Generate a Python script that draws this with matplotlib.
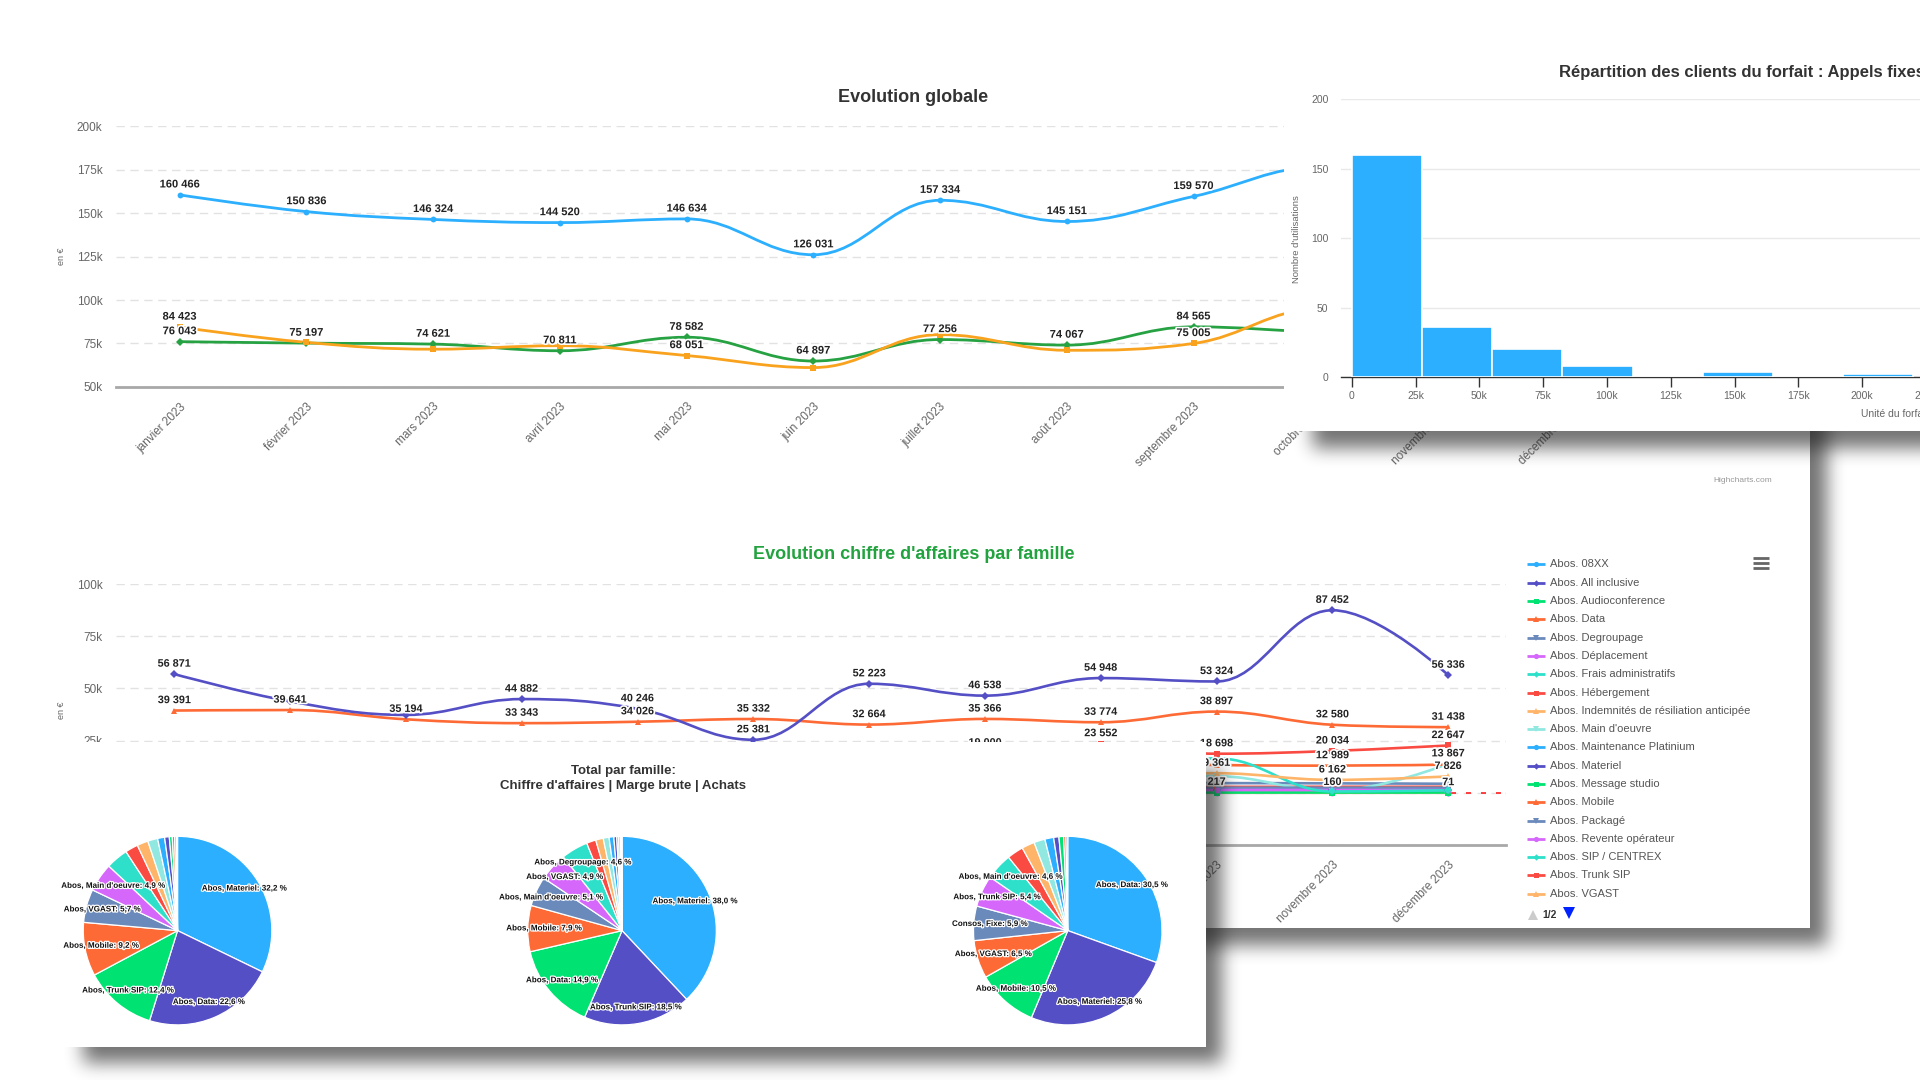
import numpy as np
import matplotlib
matplotlib.use("Agg")
import matplotlib.pyplot as plt
from matplotlib.path import Path
from matplotlib.patches import PathPatch, Rectangle
from matplotlib.ticker import FuncFormatter
import matplotlib.patheffects as pe

plt.rcParams["font.family"] = ["Liberation Sans", "DejaVu Sans"]

# ------------------------------------------------------------------ data
months = ["janvier 2023", "février 2023", "mars 2023", "avril 2023", "mai 2023", "juin 2023",
          "juillet 2023", "août 2023", "septembre 2023", "octobre 2023", "novembre 2023",
          "décembre 2023"]

# Evolution globale
chiffre_affaires = [160466, 150836, 146324, 144520, 146634, 126031, 157334, 145151, 159570,
                    176500, 168000, 170000]
marge_brute = [76043, 75197, 74621, 70811, 78582, 64897, 77256, 74067, 84565, 81500, 80000, 84000]
achats = [84423, 75639, 71703, 73709, 68051, 61134, 80078, 71084, 75005, 95000, 88000, 86000]

# Evolution chiffre d'affaires par famille
abos_08xx = [230, 230, 230, 225, 225, 225, 220, 220, 220, 217, 160, 71]
abos_all_inclusive = [1180, 1180, 1190, 1190, 1200, 1200, 1210, 1210, 1220, 1230, 1240, 1240]
abos_audioconference = [310, 290, 300, 280, 260, 270, 250, 240, 260, 250, 230, 240]
abos_data = [39391, 39641, 35194, 33343, 34026, 35332, 32664, 35366, 33774, 38897, 32580, 31438]
abos_degroupage = [4100, 4150, 4200, 4250, 4300, 4350, 4400, 4450, 4500, 4600, 4500, 4300]
abos_deplacement = [0, 350, 0, 0, 420, 0, 0, 380, 0, 0, 0, 0]
abos_frais_admin = [150, 120, 180, 140, 160, 130, 170, 150, 140, 160, 150, 140]
abos_hebergement = [2600, 2600, 2650, 2650, 2700, 2700, 2750, 2750, 2800, 2800, 2850, 2850]
abos_indemnites = [0, 0, 1800, 0, 0, 0, 2500, 0, 0, 0, 0, 0]
abos_main_oeuvre = [8200, 7900, 8600, 7400, 8100, 6900, 8800, 7600, 8300, 8000, 900, 13867]
abos_maintenance = [1900, 1900, 1920, 1920, 1940, 1940, 1950, 1950, 1960, 1960, 1970, 1970]
abos_materiel = [56871, 43800, 37300, 44882, 40246, 25381, 52223, 46538, 54948, 53324, 87452, 56336]
abos_message_studio = [90, 90, 95, 95, 100, 100, 100, 105, 105, 110, 110, 110]
abos_mobile = [14500, 14800, 15200, 14100, 14600, 13900, 15300, 14800, 15500, 13300, 12989, 13500]
abos_package = [2300, 2300, 2320, 2320, 2340, 2340, 2360, 2360, 2380, 2380, 2400, 2400]
abos_revente = [1300, 1310, 1320, 1300, 1290, 1310, 1330, 1320, 1310, 1300, 1290, 1280]
abos_sip_centrex = [5900, 6100, 6000, 6200, 6100, 6300, 6400, 6500, 6800, 16500, 600, 1200]
abos_trunk_sip = [18600, 18900, 19300, 18700, 19400, 18200, 19800, 19000, 23552, 18698, 20034, 22647]
abos_vgast = [9200, 9000, 9100, 8800, 9300, 8700, 9000, 9200, 9400, 9361, 6162, 7826]

family_names = ["Abos. 08XX", "Abos. All inclusive", "Abos. Audioconference", "Abos. Data",
                "Abos. Degroupage", "Abos. Déplacement", "Abos. Frais administratifs",
                "Abos. Hébergement", "Abos. Indemnités de résiliation anticipée",
                "Abos. Main d'oeuvre", "Abos. Maintenance Platinium", "Abos. Materiel",
                "Abos. Message studio", "Abos. Mobile", "Abos. Packagé",
                "Abos. Revente opérateur", "Abos. SIP / CENTREX", "Abos. Trunk SIP",
                "Abos. VGAST"]
family_values = [abos_08xx, abos_all_inclusive, abos_audioconference, abos_data, abos_degroupage,
                 abos_deplacement, abos_frais_admin, abos_hebergement, abos_indemnites,
                 abos_main_oeuvre, abos_maintenance, abos_materiel, abos_message_studio,
                 abos_mobile, abos_package, abos_revente, abos_sip_centrex, abos_trunk_sip,
                 abos_vgast]

# Histogram "Répartition des clients du forfait : Appels fixes"
hist_bin_edges = [0, 27500, 55000, 82500, 110000, 137500, 165000, 192500, 220000]
hist_counts = [160, 36, 20, 8, 0, 4, 0, 2]

# Pies "Total par famille"
pie_ca_names = ["Abos. Materiel", "Abos. Data", "Abos. Trunk SIP", "Abos. Mobile", "Abos. VGAST",
                "Abos. Main d'oeuvre", "Abos. SIP / CENTREX", "Consos. Fixe", "Abos. Degroupage",
                "Abos. Hébergement", "Abos. Packagé", "Abos. Revente opérateur",
                "Abos. Audioconference", "Abos. 08XX", "Abos. Frais administratifs",
                "Abos. Déplacement"]
pie_ca_values = [32.2, 22.6, 12.4, 9.2, 5.7, 4.9, 3.8, 2.2, 1.9, 1.7, 1.2, 0.8, 0.5, 0.4, 0.3, 0.2]

pie_marge_names = ["Abos. Materiel", "Abos. Trunk SIP", "Abos. Data", "Abos. Mobile",
                   "Abos. Main d'oeuvre", "Abos. VGAST", "Abos. Degroupage", "Abos. Hébergement",
                   "Abos. SIP / CENTREX", "Abos. Packagé", "Abos. Revente opérateur",
                   "Abos. Maintenance Platinium", "Abos. Audioconference", "Abos. 08XX",
                   "Abos. All inclusive", "Abos. Frais administratifs"]
pie_marge_values = [38.0, 18.5, 14.9, 7.9, 5.1, 4.9, 4.6, 1.6, 1.3, 1.0, 0.8, 0.5, 0.3, 0.3, 0.2, 0.1]

pie_achats_names = ["Abos. Data", "Abos. Materiel", "Abos. Mobile", "Abos. VGAST", "Consos. Fixe",
                    "Abos. Trunk SIP", "Abos. Main d'oeuvre", "Abos. Hébergement",
                    "Abos. Degroupage", "Abos. SIP / CENTREX", "Abos. Packagé",
                    "Abos. Maintenance Platinium", "Abos. Revente opérateur",
                    "Abos. All inclusive", "Abos. Audioconference"]
pie_achats_values = [30.5, 25.8, 10.5, 6.5, 5.9, 5.4, 4.6, 2.8, 2.2, 1.9, 1.5, 0.9, 0.8, 0.4, 0.3]

# which data labels survive Highcharts' overlap hiding
global_label_months = {"Chiffre d'affaires": list(range(12)), "Marge brute": list(range(12)),
                       "Achats": [0, 4, 8]}
family_label_months = {"Abos. Materiel": [0, 3, 4, 5, 6, 7, 8, 9, 10, 11],
                       "Abos. Data": list(range(12)), "Abos. Trunk SIP": [7, 8, 9, 10, 11],
                       "Abos. Mobile": [10], "Abos. Main d'oeuvre": [11],
                       "Abos. VGAST": [9, 10, 11], "Abos. 08XX": [9, 10, 11]}

# ------------------------------------------------------------------ styles / helpers
HC = ["#2caffe", "#544fc5", "#00e272", "#fe6a35", "#6b8abc", "#d568fb", "#2ee0ca", "#fa4b42",
      "#feb56a", "#91e8e1"]
MK = ["o", "D", "s", "^", "v"]
MS = {"o": 4.2, "D": 3.6, "s": 4.0, "^": 4.6, "v": 4.6}
W, H = 1568.0, 882.0  # layout units (reference preview pixels)


def rect(x0, y0, x1, y1):
    return [x0 / W, 1 - y1 / H, (x1 - x0) / W, (y1 - y0) / H]


def fmt_num(v):
    return f"{int(round(v)):,}".replace(",", " ")


def k_fmt(v, pos=None):
    v = int(round(v))
    return "0" if v == 0 else f"{v // 1000}k"


def spline_path(xs, ys):
    n = len(xs)
    sm = 1.5
    den = sm + 1
    lc = [None] * n
    rc = [None] * n
    for i in range(1, n - 1):
        px, py = xs[i], ys[i]
        lx, ly = xs[i - 1], ys[i - 1]
        nx, ny = xs[i + 1], ys[i + 1]
        lcx = (sm * px + lx) / den
        lcy = (sm * py + ly) / den
        rcx = (sm * px + nx) / den
        rcy = (sm * py + ny) / den
        if rcx != lcx:
            corr = ((rcy - lcy) * (rcx - px)) / (rcx - lcx) + py - rcy
            lcy += corr
            rcy += corr
        if lcy > ly and lcy > py:
            lcy = max(ly, py)
            rcy = 2 * py - lcy
        elif lcy < ly and lcy < py:
            lcy = min(ly, py)
            rcy = 2 * py - lcy
        if rcy > ny and rcy > py:
            rcy = max(ny, py)
            lcy = 2 * py - rcy
        elif rcy < ny and rcy < py:
            rcy = min(ny, py)
            lcy = 2 * py - rcy
        lc[i] = (lcx, lcy)
        rc[i] = (rcx, rcy)
    verts = [(xs[0], ys[0])]
    codes = [Path.MOVETO]
    for i in range(1, n):
        c1 = rc[i - 1] if rc[i - 1] is not None else (xs[i - 1], ys[i - 1])
        c2 = lc[i] if lc[i] is not None else (xs[i], ys[i])
        verts += [c1, c2, (xs[i], ys[i])]
        codes += [Path.CURVE4] * 3
    return Path(verts, codes)


def box_blur(a, r, axis):
    pad = [(0, 0), (0, 0)]
    pad[axis] = (r + 1, r)
    p = np.pad(a, pad, mode="edge")
    c = np.cumsum(p, axis=axis)
    if axis == 0:
        return (c[2 * r + 1:, :] - c[:-2 * r - 1, :]) / (2 * r + 1)
    return (c[:, 2 * r + 1:] - c[:, :-2 * r - 1]) / (2 * r + 1)


def overlay(z):
    ax = fig.add_axes([0, 0, 1, 1], zorder=z)
    ax.set_axis_off()
    return ax


def panel(ax, x0, y0, x1, y1, dx=13, dy=14, blur=6, alpha=0.62, inset_l=0, inset_t=0):
    s = 0.5
    w, h = int(W * s), int(H * s)
    m = np.zeros((h, w))
    X0, X1 = int(round((x0 + dx + inset_l) * s)), int(round((x1 + dx) * s))
    Y0, Y1 = int(round((y0 + dy + inset_t) * s)), int(round((y1 + dy) * s))
    m[max(Y0, 0):min(Y1, h), max(X0, 0):min(X1, w)] = 1.0
    r = max(1, int(blur * s))
    for _ in range(3):
        m = box_blur(m, r, 0)
        m = box_blur(m, r, 1)
    img = np.zeros((h, w, 4))
    img[..., :3] = 0.12
    img[..., 3] = m * alpha
    ax.imshow(img, extent=(0, W, H, 0), interpolation="bilinear", aspect="auto", zorder=0)
    ax.add_patch(Rectangle((x0, y0), x1 - x0, y1 - y0, facecolor="white", edgecolor="none",
                           zorder=1))
    ax.set_xlim(0, W)
    ax.set_ylim(H, 0)


def style_line_axes(ax, ymin, ymax, yticks):
    ax.patch.set_alpha(0)
    ax.set_xlim(-0.5, 11.5)
    ax.set_ylim(ymin, ymax)
    ax.set_yticks(yticks)
    ax.yaxis.set_major_formatter(FuncFormatter(k_fmt))
    ax.set_xticks(range(12))
    ax.set_xticklabels(months, rotation=45, ha="right", va="top", rotation_mode="anchor")
    for sp in ["top", "right", "left"]:
        ax.spines[sp].set_visible(False)
    ax.spines["bottom"].set_color("#a8a8a8")
    ax.spines["bottom"].set_linewidth(2)
    ax.tick_params(axis="y", length=0, pad=10, labelsize=8.5, labelcolor="#666666")
    ax.tick_params(axis="x", length=0, pad=10, labelsize=8.5, labelcolor="#666666")
    ax.grid(axis="y", color="#e2e2e2", linewidth=1, linestyle=(0, (6, 4)))
    ax.set_axisbelow(True)


def draw_series(ax, ys, color, marker, lw=2.0, ms=None):
    xs = list(range(len(ys)))
    ax.add_patch(PathPatch(spline_path(xs, ys), facecolor="none", edgecolor=color, lw=lw,
                           zorder=3, capstyle="round"))
    ax.plot(xs, ys, ls="none", marker=marker, ms=ms or MS[marker], color=color, zorder=4,
            markeredgewidth=0)


def draw_labels(ax, ys, idxs, size=8):
    for i in idxs:
        ax.annotate(fmt_num(ys[i]), (i, ys[i]), xytext=(0, 7.5), textcoords="offset points",
                    ha="center", va="center", fontsize=size, fontweight="bold", color="#222222",
                    path_effects=[pe.withStroke(linewidth=2.4, foreground="white")], zorder=6,
                    annotation_clip=False)


# ------------------------------------------------------------------ figure
fig = plt.figure(figsize=(19.2, 10.8), dpi=100)
fig.patch.set_facecolor("white")

# ---------- panel A (big Highcharts page) ----------
oa = overlay(0)
panel(oa, 40, 36, 1478, 758, inset_l=40, inset_t=20)
oa.text(746, 80, "Evolution globale", ha="center", va="center", fontsize=13, fontweight="bold",
        color="#333333", zorder=3)
oa.text(746, 453, "Evolution chiffre d'affaires par famille", ha="center", va="center",
        fontsize=13, fontweight="bold", color="#22a33f", zorder=3)
oa.text(50, 209, "en €", rotation=90, ha="center", va="center", fontsize=6.5, color="#666666",
        zorder=3)
oa.text(50, 580, "en €", rotation=90, ha="center", va="center", fontsize=6.5, color="#666666",
        zorder=3)
oa.text(1423, 392, "Highcharts.com", ha="center", va="center", fontsize=6, color="#999999",
        zorder=3)
# legend
leg_y0, leg_dy = 461, 14.94
for i, name in enumerate(family_names):
    y = leg_y0 + i * leg_dy
    c = HC[i % 10]
    mk = MK[i % 5]
    oa.plot([1247, 1262], [y, y], color=c, lw=2, zorder=3, solid_capstyle="butt")
    oa.plot([1254.5], [y], marker=mk, ms=MS[mk] * 0.9, color=c, zorder=4, markeredgewidth=0)
    oa.text(1266, y, name, ha="left", va="center", fontsize=8, color="#555555", zorder=3)
oa.plot([1252], [747], marker="^", ms=7, color="#cccccc", zorder=3, markeredgewidth=0)
oa.text(1260, 747, "1/2", ha="left", va="center", fontsize=7.5, fontweight="bold",
        color="#333333", zorder=3)
oa.plot([1281], [746], marker="v", ms=8, color="#0022ff", zorder=3, markeredgewidth=0)
for yy in (456, 460, 464):
    oa.plot([1432, 1445], [yy, yy], color="#666666", lw=2, zorder=3, solid_capstyle="butt")

# top chart
ax1 = fig.add_axes(rect(95, 103, 1337, 316), zorder=1)
style_line_axes(ax1, 50000, 200000, [50000, 75000, 100000, 125000, 150000, 175000, 200000])
glob = [("Chiffre d'affaires", chiffre_affaires, "#2caffe", "o"),
        ("Marge brute", marge_brute, "#27a243", "D"),
        ("Achats", achats, "#f9a21d", "s")]
for name, ys, c, mk in glob:
    draw_series(ax1, ys, c, mk)
for name, ys, c, mk in glob:
    draw_labels(ax1, ys, global_label_months[name])

# middle chart
ax2 = fig.add_axes(rect(95, 477, 1230, 690), zorder=1)
style_line_axes(ax2, -25000, 100000, [-25000, 0, 25000, 50000, 75000, 100000])
ax2.axhline(0, color="#ff2020", lw=1.2, linestyle=(0, (3, 6)), zorder=2)
for i, (name, ys) in enumerate(zip(family_names, family_values)):
    draw_series(ax2, ys, HC[i % 10], MK[i % 5], lw=1.9)
for i, (name, ys) in enumerate(zip(family_names, family_values)):
    if name in family_label_months:
        draw_labels(ax2, ys, family_label_months[name], size=7.8)

# ---------- panel B (histogram) ----------
ob = overlay(2)
panel(ob, 1049, 45, 1990, 352, inset_l=10, inset_t=20)
ob.text(1273, 59, "Répartition des clients du forfait : Appels fixes", ha="left", va="center",
        fontsize=12, fontweight="bold", color="#333333", zorder=3)
ob.text(1059, 195, "Nombre d'utilisations", rotation=90, ha="center", va="center", fontsize=6.8,
        color="#666666", zorder=3)
ob.text(1520, 338, "Unité du forfait", ha="left", va="center", fontsize=7.5, color="#666666",
        zorder=3)

ax3 = fig.add_axes(rect(1095, 81, 1640, 308), zorder=3)
ax3.patch.set_alpha(0)
widths = np.diff(hist_bin_edges)
ax3.bar(hist_bin_edges[:-1], hist_counts, width=widths, align="edge", color="#2caffe",
        edgecolor="white", linewidth=1.2, zorder=3)
ax3.set_xlim(-4300, 257200)
ax3.set_ylim(0, 200)
ax3.set_yticks([0, 50, 100, 150, 200])
ax3.set_xticks(np.arange(0, 250001, 25000))
ax3.xaxis.set_major_formatter(FuncFormatter(k_fmt))
for sp in ["top", "right", "left"]:
    ax3.spines[sp].set_visible(False)
ax3.spines["bottom"].set_color("#333333")
ax3.spines["bottom"].set_linewidth(1)
ax3.tick_params(axis="y", length=0, pad=9, labelsize=7.5, labelcolor="#666666")
ax3.tick_params(axis="x", length=7, width=1, color="#333333", pad=3, labelsize=7.5,
                labelcolor="#666666")
ax3.grid(axis="y", color="#e9e9e9", linewidth=1)
ax3.set_axisbelow(True)

# ---------- panel C (pies) ----------
oc = overlay(4)
panel(oc, 45, 606, 985, 855, inset_l=10, inset_t=10)
oc.text(509, 630, "Total par famille:", ha="center", va="center", fontsize=9.5,
        fontweight="bold", color="#333333", zorder=3)
oc.text(509, 642, "Chiffre d'affaires | Marge brute | Achats", ha="center", va="center",
        fontsize=9.5, fontweight="bold", color="#333333", zorder=3)


def draw_pie(cx, cy, names, values):
    ax = fig.add_axes(rect(cx - 95, cy - 95, cx + 95, cy + 95), zorder=5)
    wedges, _ = ax.pie(values, colors=[HC[i % 10] for i in range(len(values))], startangle=90,
                       counterclock=False, radius=77,
                       wedgeprops=dict(edgecolor="white", linewidth=0.9))
    ax.set_xlim(-95, 95)
    ax.set_ylim(-95, 95)
    ax.set_aspect("equal")
    ax.set_axis_off()
    total = float(sum(values))
    for w, n, v in zip(wedges, names, values):
        pct = 100.0 * v / total
        if pct < 4.5:
            continue
        th = np.deg2rad((w.theta1 + w.theta2) / 2.0)
        ax.text(64 * np.cos(th), 64 * np.sin(th), f"{n}: {pct:.1f} %".replace(".", ","),
                ha="center", va="center", fontsize=5.8, fontweight="bold", color="#111111",
                path_effects=[pe.withStroke(linewidth=1.8, foreground="white")], zorder=6)


draw_pie(145, 760, pie_ca_names, pie_ca_values)
draw_pie(508, 760, pie_marge_names, pie_marge_values)
draw_pie(872, 760, pie_achats_names, pie_achats_values)

fig.savefig("out.png", dpi=100, facecolor="white")
